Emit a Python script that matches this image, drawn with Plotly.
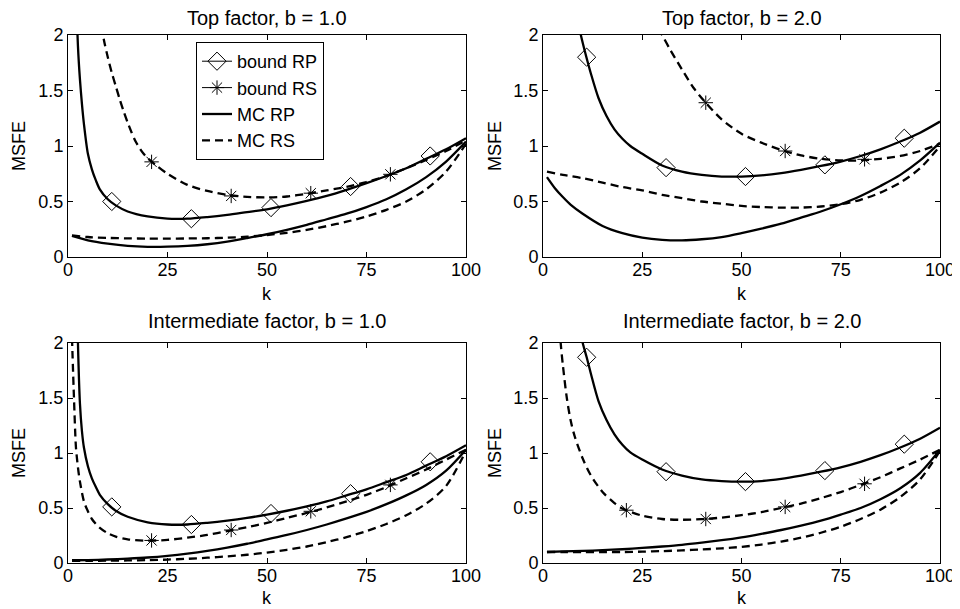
import plotly.graph_objects as go

# ---------------- data ----------------
TITLES = ["Top factor, b = 1.0", "Top factor, b = 2.0",
          "Intermediate factor, b = 1.0", "Intermediate factor, b = 2.0"]
X_TICKS = [0, 25, 50, 75, 100]
Y_TICKS = [0, 0.5, 1, 1.5, 2]
Y_TICK_TEXT = ["0", "0.5", "1", "1.5", "2"]
K_MC = [1, 5, 10, 15, 20, 25, 30, 35, 40, 45, 50, 55, 60, 65, 70, 75, 80, 85, 90, 95, 100]
K_MARK_RP = [11, 31, 51, 71, 91]

# Top factor, b = 1.0
TL_K_BRP = [2, 2.5, 3, 3.5, 4, 5, 6, 7, 8, 10, 12, 15, 20, 25, 30, 35, 40, 45, 50, 55, 60, 65, 70, 75, 80, 85, 90, 95, 100]
TL_BRP = [2.45, 1.9, 1.6, 1.38, 1.2, 0.93, 0.79, 0.69, 0.61, 0.52, 0.465, 0.41, 0.365, 0.345, 0.345, 0.36, 0.38, 0.405, 0.43, 0.465, 0.505, 0.55, 0.605, 0.665, 0.73, 0.8, 0.885, 0.97, 1.07]
TL_K_BRS = [8, 9, 10, 11, 12, 13, 14, 15, 16, 17, 18, 19, 20, 22, 25, 30, 35, 40, 45, 50, 55, 60, 65, 70, 75, 80, 85, 90, 95, 100]
TL_BRS = [2.2, 1.96, 1.8, 1.66, 1.54, 1.42, 1.31, 1.21, 1.12, 1.04, 0.98, 0.93, 0.89, 0.83, 0.75, 0.65, 0.595, 0.56, 0.542, 0.537, 0.545, 0.57, 0.6, 0.632, 0.675, 0.73, 0.8, 0.875, 0.955, 1.05]
TL_MCRP = [0.19, 0.15, 0.12, 0.1, 0.092, 0.093, 0.1, 0.115, 0.138, 0.17, 0.205, 0.245, 0.29, 0.34, 0.39, 0.45, 0.52, 0.61, 0.72, 0.86, 1.04]
TL_MCRS = [0.195, 0.18, 0.172, 0.168, 0.166, 0.166, 0.167, 0.169, 0.174, 0.183, 0.198, 0.218, 0.245, 0.278, 0.318, 0.365, 0.425, 0.5, 0.61, 0.77, 1.02]
TL_MARK_RP = [0.5, 0.345, 0.445, 0.635, 0.91]
TL_K_MARK_RS = [21, 41, 61, 81]
TL_MARK_RS = [0.857, 0.55, 0.575, 0.745]

# Top factor, b = 2.0
TR_K_BRP = [9, 10, 11, 12, 14, 16, 18, 20, 22, 25, 30, 35, 40, 45, 50, 55, 60, 65, 70, 75, 80, 85, 90, 95, 100]
TR_BRP = [2.08, 1.93, 1.79, 1.66, 1.43, 1.27, 1.15, 1.065, 1.0, 0.93, 0.825, 0.77, 0.74, 0.725, 0.725, 0.735, 0.755, 0.785, 0.82, 0.86, 0.91, 0.97, 1.04, 1.12, 1.22]
TR_K_BRS = [29, 30, 32, 35, 38, 41, 45, 50, 55, 60, 65, 70, 75, 80, 85, 90, 95, 100]
TR_BRS = [2.06, 2.0, 1.87, 1.69, 1.52, 1.39, 1.24, 1.11, 1.03, 0.965, 0.915, 0.885, 0.87, 0.87, 0.885, 0.91, 0.955, 1.02]
TR_K_MCRP = [1, 3, 5, 7, 10, 15, 20, 25, 30, 35, 40, 45, 50, 55, 60, 65, 70, 75, 80, 85, 90, 95, 100]
TR_MCRP = [0.72, 0.62, 0.54, 0.47, 0.39, 0.28, 0.215, 0.175, 0.155, 0.15, 0.16, 0.18, 0.215, 0.255, 0.3, 0.355, 0.41, 0.475, 0.55, 0.64, 0.74, 0.87, 1.03]
TR_MCRS = [0.77, 0.74, 0.71, 0.67, 0.63, 0.6, 0.56, 0.53, 0.5, 0.48, 0.46, 0.45, 0.445, 0.445, 0.455, 0.475, 0.515, 0.58, 0.67, 0.8, 1.0]
TR_MARK_RP = [1.8, 0.805, 0.725, 0.83, 1.07]
TR_K_MARK_RS = [41, 61, 81]
TR_MARK_RS = [1.39, 0.955, 0.88]

# Intermediate factor, b = 1.0
BL_K_BRP = [2.3, 2.5, 3, 3.5, 4, 5, 6, 7, 8, 10, 12, 15, 20, 25, 30, 35, 40, 45, 50, 55, 60, 65, 70, 75, 80, 85, 90, 95, 100]
BL_BRP = [2.4, 2.0, 1.45, 1.2, 1.05, 0.88, 0.77, 0.69, 0.62, 0.535, 0.475, 0.42, 0.37, 0.35, 0.35, 0.365, 0.385, 0.41, 0.44, 0.475, 0.515, 0.56, 0.615, 0.67, 0.735, 0.8, 0.885, 0.97, 1.07]
BL_K_BRS = [1, 1.5, 2, 2.5, 3, 4, 5, 6, 7, 8, 10, 12, 15, 20, 25, 30, 35, 40, 45, 50, 55, 60, 65, 70, 75, 80, 85, 90, 95, 100]
BL_BRS = [2.05, 1.5, 1.05, 0.87, 0.74, 0.56, 0.47, 0.4, 0.355, 0.32, 0.27, 0.24, 0.215, 0.203, 0.21, 0.23, 0.255, 0.29, 0.325, 0.365, 0.41, 0.455, 0.505, 0.56, 0.62, 0.69, 0.77, 0.85, 0.94, 1.03]
BL_MCRP = [0.025, 0.027, 0.032, 0.04, 0.05, 0.065, 0.085, 0.11, 0.14, 0.175, 0.215, 0.255, 0.3, 0.35, 0.405, 0.465, 0.535, 0.615, 0.71, 0.84, 1.03]
BL_MCRS = [0.02, 0.02, 0.021, 0.023, 0.026, 0.031, 0.038, 0.048, 0.06, 0.075, 0.095, 0.12, 0.15, 0.19, 0.235, 0.29, 0.355, 0.435, 0.54, 0.7, 1.02]
BL_MARK_RP = [0.51, 0.35, 0.45, 0.63, 0.92]
BL_K_MARK_RS = [21, 41, 61, 81]
BL_MARK_RS = [0.205, 0.3, 0.47, 0.71]

# Intermediate factor, b = 2.0
BR_K_BRP = [9.5, 10, 11, 12, 14, 16, 18, 20, 22, 25, 30, 35, 40, 45, 50, 55, 60, 65, 70, 75, 80, 85, 90, 95, 100]
BR_BRP = [2.08, 2.0, 1.87, 1.73, 1.47, 1.3, 1.17, 1.075, 1.005, 0.94, 0.85, 0.795, 0.76, 0.745, 0.74, 0.745, 0.765, 0.795, 0.83, 0.87, 0.92, 0.98, 1.05, 1.13, 1.23]
BR_K_BRS = [4, 4.5, 5, 6, 7, 8, 10, 12, 15, 18, 20, 25, 30, 35, 40, 45, 50, 55, 60, 65, 70, 75, 80, 85, 90, 95, 100]
BR_BRS = [2.25, 1.98, 1.8, 1.5, 1.29, 1.15, 0.95, 0.8, 0.645, 0.545, 0.495, 0.43, 0.4, 0.393, 0.398, 0.413, 0.435, 0.462, 0.5, 0.54, 0.59, 0.645, 0.71, 0.78, 0.86, 0.94, 1.03]
BR_MCRP = [0.1, 0.105, 0.11, 0.117, 0.125, 0.137, 0.15, 0.165, 0.185, 0.207, 0.233, 0.265, 0.3, 0.34, 0.385, 0.44, 0.5, 0.58, 0.68, 0.82, 1.03]
BR_MCRS = [0.1, 0.1, 0.1, 0.1, 0.1, 0.103, 0.108, 0.115, 0.123, 0.133, 0.147, 0.167, 0.195, 0.23, 0.275, 0.33, 0.4, 0.485, 0.6, 0.76, 1.02]
BR_MARK_RP = [1.87, 0.83, 0.74, 0.84, 1.08]
BR_K_MARK_RS = [21, 41, 61, 81]
BR_MARK_RS = [0.48, 0.4, 0.51, 0.72]

PANELS = [
    dict(kbrp=TL_K_BRP, brp=TL_BRP, kbrs=TL_K_BRS, brs=TL_BRS, kmcrp=K_MC, mcrp=TL_MCRP, mcrs=TL_MCRS,
         mrp=TL_MARK_RP, kmrs=TL_K_MARK_RS, mrs=TL_MARK_RS),
    dict(kbrp=TR_K_BRP, brp=TR_BRP, kbrs=TR_K_BRS, brs=TR_BRS, kmcrp=TR_K_MCRP, mcrp=TR_MCRP, mcrs=TR_MCRS,
         mrp=TR_MARK_RP, kmrs=TR_K_MARK_RS, mrs=TR_MARK_RS),
    dict(kbrp=BL_K_BRP, brp=BL_BRP, kbrs=BL_K_BRS, brs=BL_BRS, kmcrp=K_MC, mcrp=BL_MCRP, mcrs=BL_MCRS,
         mrp=BL_MARK_RP, kmrs=BL_K_MARK_RS, mrs=BL_MARK_RS),
    dict(kbrp=BR_K_BRP, brp=BR_BRP, kbrs=BR_K_BRS, brs=BR_BRS, kmcrp=K_MC, mcrp=BR_MCRP, mcrs=BR_MCRS,
         mrp=BR_MARK_RP, kmrs=BR_K_MARK_RS, mrs=BR_MARK_RS),
]

# ---------------- layout geometry ----------------
W, H = 960, 609
OFF = 8  # the page body margin shifts the figure by 8px; compensate
FONT = "Liberation Sans, Arial, Helvetica, sans-serif"
FS_TICK = 18
FS_TITLE = 20
FS_LAB = 18
FS_LEG = 18


def xp(px):
    return (px - OFF) / W


def yp(py):
    return 1 - (py - OFF) / H


X_DOM = [[xp(68), xp(466)], [xp(543), xp(940)]]
Y_DOM = [[yp(257), yp(35)], [yp(563), yp(343)]]
LW = 2.3
DASH = "8px,5px"
DIAMOND = dict(symbol="diamond-open", size=14, color="black", line=dict(width=1, color="black"))
STAR = dict(symbol="asterisk-open", size=12, color="black", line=dict(width=1, color="black"))

fig = go.Figure()

# legend-only entries
fig.add_trace(go.Scatter(x=[None], y=[None], mode="lines+markers", name="bound RP",
                         line=dict(color="black", width=1), marker=DIAMOND, xaxis="x", yaxis="y"))
fig.add_trace(go.Scatter(x=[None], y=[None], mode="lines+markers", name="bound RS",
                         line=dict(color="black", width=1), marker=STAR, xaxis="x", yaxis="y"))
fig.add_trace(go.Scatter(x=[None], y=[None], mode="lines", name="MC RP",
                         line=dict(color="black", width=LW), xaxis="x", yaxis="y"))
fig.add_trace(go.Scatter(x=[None], y=[None], mode="lines", name="MC RS",
                         line=dict(color="black", width=LW, dash=DASH), xaxis="x", yaxis="y"))

for i, p in enumerate(PANELS):
    sfx = "" if i == 0 else str(i + 1)
    xa, ya = "x" + sfx, "y" + sfx
    common = dict(xaxis=xa, yaxis=ya, showlegend=False, hoverinfo="skip")
    fig.add_trace(go.Scatter(x=K_MC, y=p["mcrs"], mode="lines",
                             line=dict(color="black", width=LW, dash=DASH, shape="spline", smoothing=0.8), **common))
    fig.add_trace(go.Scatter(x=p["kmcrp"], y=p["mcrp"], mode="lines",
                             line=dict(color="black", width=LW, shape="spline", smoothing=0.8), **common))
    fig.add_trace(go.Scatter(x=p["kbrs"], y=p["brs"], mode="lines",
                             line=dict(color="black", width=LW, dash=DASH, shape="spline", smoothing=0.8), **common))
    fig.add_trace(go.Scatter(x=p["kbrp"], y=p["brp"], mode="lines",
                             line=dict(color="black", width=LW, shape="spline", smoothing=0.8), **common))
    fig.add_trace(go.Scatter(x=K_MARK_RP, y=p["mrp"], mode="markers", marker=DIAMOND, **common))
    fig.add_trace(go.Scatter(x=p["kmrs"], y=p["mrs"], mode="markers", marker=STAR, **common))

axis_common = dict(showline=True, linecolor="black", linewidth=1, mirror="ticks",
                   ticks="inside", ticklen=5, tickwidth=1, tickcolor="black",
                   showgrid=False, zeroline=False, automargin=False,
                   tickfont=dict(family=FONT, size=FS_TICK, color="black"))

layout = dict(width=W, height=H, margin=dict(l=0, r=0, t=0, b=0, autoexpand=False),
              paper_bgcolor="white", plot_bgcolor="white",
              font=dict(family=FONT, size=FS_TICK, color="black"),
              legend=dict(x=xp(196), y=yp(42), xanchor="left", yanchor="top",
                          bgcolor="white", bordercolor="black", borderwidth=1,
                          font=dict(family=FONT, size=FS_LEG, color="black"),
                          tracegroupgap=0),
              annotations=[])

for i in range(4):
    r, c = divmod(i, 2)
    sfx = "" if i == 0 else str(i + 1)
    layout["xaxis" + sfx] = dict(domain=X_DOM[c], range=[0, 100], tickvals=X_TICKS,
                                 anchor="y" + sfx, ticklabelstandoff=-4, **axis_common)
    layout["yaxis" + sfx] = dict(domain=Y_DOM[r], range=[0, 2], tickvals=Y_TICKS, ticktext=Y_TICK_TEXT,
                                 anchor="x" + sfx, **axis_common)
    xc = (X_DOM[c][0] + X_DOM[c][1]) / 2
    title_y = [18, 321][r]
    k_y = [294, 598][r]
    msfe_x = [19, 495][c]
    ymid = (Y_DOM[r][0] + Y_DOM[r][1]) / 2
    layout["annotations"] += [
        dict(text=TITLES[i], x=xc, y=yp(title_y), xref="paper", yref="paper",
             xanchor="center", yanchor="middle", showarrow=False, borderpad=0,
             font=dict(family=FONT, size=FS_TITLE, color="black")),
        dict(text="k", x=xc, y=yp(k_y), xref="paper", yref="paper",
             xanchor="center", yanchor="middle", showarrow=False,
             font=dict(family=FONT, size=FS_LAB, color="black")),
        dict(text="MSFE", x=xp(msfe_x), y=ymid, xref="paper", yref="paper", textangle=-90,
             xanchor="center", yanchor="middle", showarrow=False,
             font=dict(family=FONT, size=FS_LAB, color="black")),
    ]

fig.update_layout(**layout)
fig.write_html("out.html")
